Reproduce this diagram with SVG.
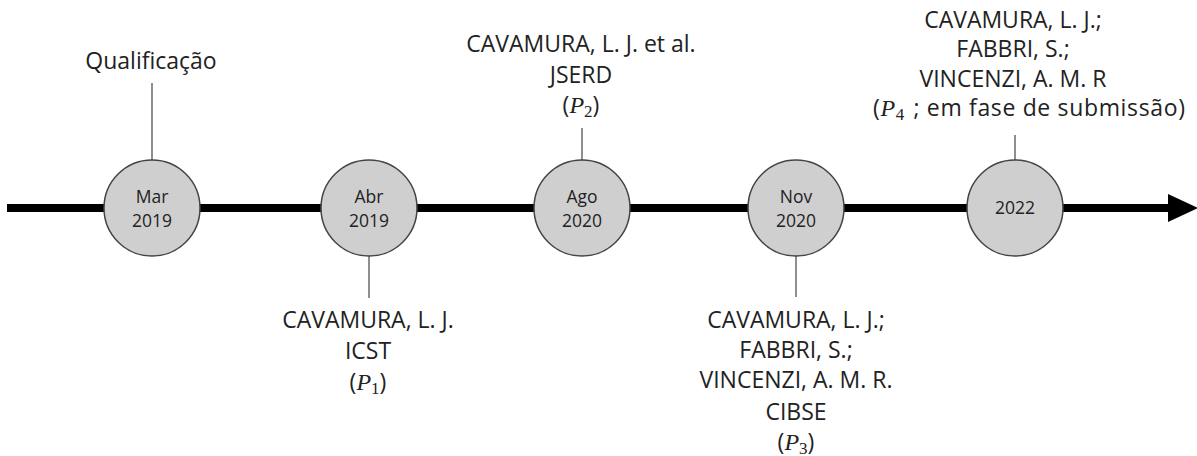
<svg xmlns="http://www.w3.org/2000/svg" width="1197" height="456" viewBox="0 0 1197 456">
  <style>
    .lbl { font-family: "Open Sans", "Liberation Sans", Arial, sans-serif; font-size: 23px; fill: #222; text-anchor: middle; }
    .date { font-family: "Open Sans", "Liberation Sans", Arial, sans-serif; font-size: 17.5px; fill: #222; text-anchor: middle; }
    .math { font-family: "Liberation Serif", "Times New Roman", serif; font-style: italic; font-size: 24px; }
    .sub { font-family: "Liberation Serif", "Times New Roman", serif; font-style: normal; font-size: 17px; }
    .node circle { fill: #d0cfd0; stroke: #444; stroke-width: 1.5; }
    .tick { stroke: #444; stroke-width: 1.2; fill: none; }
  </style>
  <rect width="1197" height="456" fill="#fff"/>

  <!-- timeline axis and ticks -->
  <g id="connectors">
    <line x1="7" y1="208" x2="1170" y2="208" stroke="#000" stroke-width="8"/>
    <polygon points="1168,194 1198,208 1168,222" fill="#000"/>
    <line class="tick" x1="152" y1="83" x2="152" y2="160"/>
    <line class="tick" x1="369" y1="256" x2="369" y2="298"/>
    <line class="tick" x1="582" y1="128" x2="582" y2="160"/>
    <line class="tick" x1="796" y1="256" x2="796" y2="297"/>
    <line class="tick" x1="1015" y1="135" x2="1015" y2="160"/>
  </g>

  <g id="mar2019" class="node">
    <circle cx="152" cy="208" r="48"/>
    <text class="date" x="152" y="203">Mar</text>
    <text class="date" x="152" y="227">2019</text>
    <text class="lbl" x="151" y="69">Qualificação</text>
  </g>

  <g id="abr2019" class="node">
    <circle cx="369" cy="208" r="48"/>
    <text class="date" x="369" y="203">Abr</text>
    <text class="date" x="369" y="227">2019</text>
    <text class="lbl" x="368" y="328">CAVAMURA, L. J.</text>
    <text class="lbl" x="368" y="359">ICST</text>
    <text class="lbl" x="368" y="390">(<tspan class="math">P</tspan><tspan class="sub" dy="4">1</tspan><tspan dy="-4">)</tspan></text>
  </g>

  <g id="ago2020" class="node">
    <circle cx="582" cy="208" r="48"/>
    <text class="date" x="582" y="203">Ago</text>
    <text class="date" x="582" y="227">2020</text>
    <text class="lbl" x="581" y="52">CAVAMURA, L. J. et al.</text>
    <text class="lbl" x="581" y="83">JSERD</text>
    <text class="lbl" x="581" y="113">(<tspan class="math">P</tspan><tspan class="sub" dy="4">2</tspan><tspan dy="-4">)</tspan></text>
  </g>

  <g id="nov2020" class="node">
    <circle cx="796" cy="208" r="48"/>
    <text class="date" x="796" y="203">Nov</text>
    <text class="date" x="796" y="227">2020</text>
    <text class="lbl" x="796" y="328">CAVAMURA, L. J.;</text>
    <text class="lbl" x="796" y="358">FABBRI, S.;</text>
    <text class="lbl" x="796" y="388">VINCENZI, A. M. R.</text>
    <text class="lbl" x="796" y="420">CIBSE</text>
    <text class="lbl" x="796" y="450">(<tspan class="math">P</tspan><tspan class="sub" dy="4">3</tspan><tspan dy="-4">)</tspan></text>
  </g>

  <g id="y2022" class="node">
    <circle cx="1015" cy="208" r="48"/>
    <text class="date" x="1015" y="214">2022</text>
    <text class="lbl" x="1013" y="28">CAVAMURA, L. J.;</text>
    <text class="lbl" x="1013" y="57">FABBRI, S.;</text>
    <text class="lbl" x="1013" y="87">VINCENZI, A. M. R</text>
    <text class="lbl" x="1029" y="116" textLength="312" lengthAdjust="spacing">(<tspan class="math">P</tspan><tspan class="sub" dy="4">4</tspan><tspan dx="2" dy="-4"> ; em fase de submissão)</tspan></text>
  </g>
</svg>
